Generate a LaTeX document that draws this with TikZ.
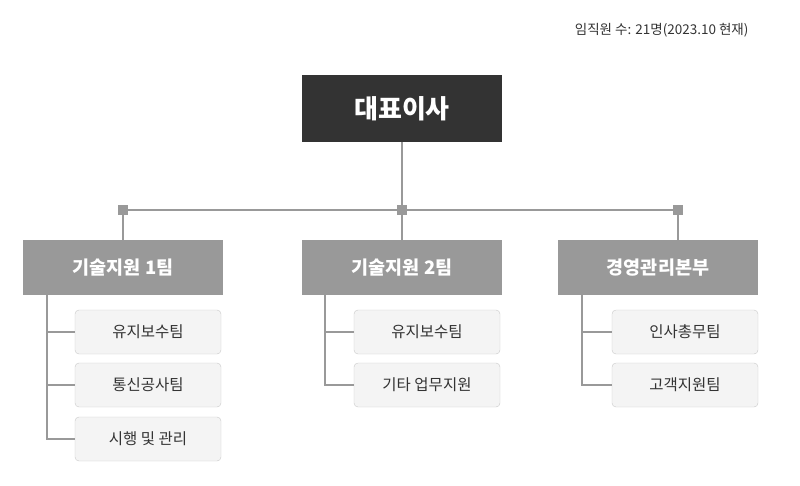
\documentclass[tikz,border=0pt]{standalone}
\usepackage{fontspec}
\setmainfont{Noto Sans CJK KR}
\usetikzlibrary{positioning}
\definecolor{ceo}{HTML}{333333}
\definecolor{team}{HTML}{999999}
\definecolor{line}{HTML}{999999}
\definecolor{sub}{HTML}{F4F4F4}
\definecolor{subline}{HTML}{C8C8C8}
\begin{document}
\begin{tikzpicture}[x=1pt,y=-1pt,
  ceo box/.style={fill=ceo,text=white,minimum width=200pt,minimum height=67pt,font=\bfseries\fontsize{26}{30}\selectfont},
  team box/.style={fill=team,text=white,minimum width=200pt,minimum height=55pt,font=\bfseries\fontsize{18.5}{22}\selectfont},
  sub box/.style={fill=sub,draw=subline,rounded corners=4pt,minimum width=146pt,minimum height=44pt,font=\fontsize{15.5}{18}\selectfont,text=ceo},
  link/.style={draw=line,line width=2.2pt},
  joint/.style={fill=line,minimum size=10pt,inner sep=0pt}]
 \useasboundingbox (0,0) rectangle (800,485);

 \node[anchor=east,text=ceo,font=\fontsize{13.5}{16}\selectfont] (note) at (752,30) {임직원 수: 21명(2023.10 현재)};

 \node[ceo box] (ceo) at (402,108.5) {대표이사};
 \node[team box] (t1) at (123,267.5) {기술지원 1팀};
 \node[team box] (t2) at (402,267.5) {기술지원 2팀};
 \node[team box] (t3) at (658,267.5) {경영관리본부};

 \node[joint] (j1) at (123,210) {};
 \node[joint] (j2) at (402,210) {};
 \node[joint] (j3) at (678,210) {};

 \node[sub box] (s11) at (148,332) {유지보수팀};
 \node[sub box] (s12) at (148,385) {통신공사팀};
 \node[sub box] (s13) at (148,439) {시행 및 관리};
 \node[sub box] (s21) at (427,332) {유지보수팀};
 \node[sub box] (s22) at (427,385) {기타 업무지원};
 \node[sub box] (s31) at (685,332) {인사총무팀};
 \node[sub box] (s32) at (685,385) {고객지원팀};

 \coordinate (b1) at (47,295);
 \coordinate (b2) at (325,295);
 \coordinate (b3) at (582,295);

 \path[link] (ceo) -- (j2.center) -- (t2);
 \path[link] (j1.center) -- (j3.center);
 \path[link] (j1.center) -- (t1.north -| j1);
 \path[link] (j3.center) -- (t3.north -| j3);
 \path[link] (b1) |- (s13.west);
 \path[link] (b1 |- s11) -- (s11.west);
 \path[link] (b1 |- s12) -- (s12.west);
 \path[link] (b2) |- (s22.west);
 \path[link] (b2 |- s21) -- (s21.west);
 \path[link] (b3) |- (s32.west);
 \path[link] (b3 |- s31) -- (s31.west);
 \node[joint] at (j1) {};
 \node[joint] at (j2) {};
 \node[joint] at (j3) {};
\end{tikzpicture}
\end{document}
